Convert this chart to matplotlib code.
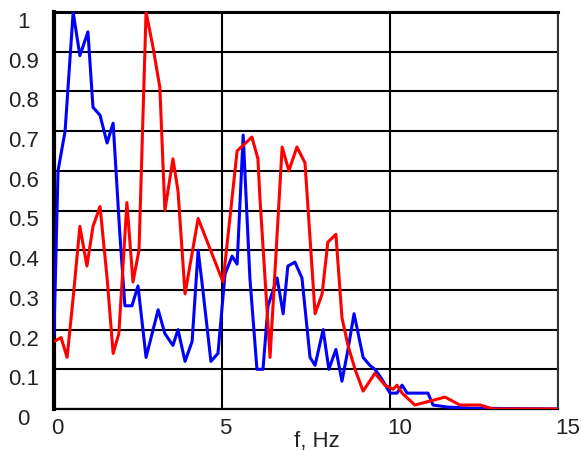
import matplotlib
matplotlib.use("Agg")
import matplotlib.pyplot as plt
from matplotlib.transforms import ScaledTranslation

# spectrum 1 (blue)
f_blue = [0, 0.12, 0.33, 0.57, 0.77, 1.01, 1.16, 1.37, 1.58, 1.76, 1.96, 2.11,
          2.32, 2.50, 2.74, 3.10, 3.30, 3.54, 3.69, 3.90, 4.11, 4.29, 4.43, 4.67,
          4.88, 5.09, 5.30, 5.45, 5.63, 5.83, 6.04, 6.22, 6.37, 6.64, 6.82, 6.96,
          7.17, 7.38, 7.62, 7.77, 8.01, 8.18, 8.39, 8.57, 8.75, 8.93, 9.20, 9.40,
          9.55, 9.76, 10.0, 10.21, 10.36, 10.51, 10.89, 11.13, 11.28, 11.70,
          12.4, 15]
a_blue = [0.19, 0.60, 0.70, 1.0, 0.89, 0.95, 0.76, 0.74, 0.67, 0.72, 0.44, 0.26,
          0.26, 0.31, 0.13, 0.25, 0.19, 0.16, 0.20, 0.12, 0.17, 0.40, 0.30, 0.12,
          0.14, 0.34, 0.385, 0.365, 0.69, 0.33, 0.10, 0.10, 0.26, 0.33, 0.24, 0.36,
          0.37, 0.33, 0.13, 0.11, 0.20, 0.10, 0.15, 0.07, 0.15, 0.24, 0.13, 0.11,
          0.10, 0.075, 0.04, 0.04, 0.06, 0.04, 0.04, 0.04, 0.01, 0.005,
          0.002, 0.0]

# spectrum 2 (red)
f_red = [0, 0.21, 0.39, 0.57, 0.77, 0.98, 1.16, 1.37, 1.58, 1.76, 1.93, 2.17,
         2.35, 2.53, 2.74, 2.95, 3.15, 3.30, 3.54, 3.69, 3.90, 4.29, 5.03, 5.45,
         5.89, 6.07, 6.13, 6.43, 6.79, 6.99, 7.23, 7.47, 7.77, 7.98, 8.15, 8.39,
         8.57, 8.75, 8.96, 9.20, 9.55, 9.85, 10.09, 10.21, 10.36, 10.74, 11.19,
         11.64, 12.08, 12.68, 13.07, 15]
a_red = [0.17, 0.18, 0.13, 0.28, 0.46, 0.36, 0.46, 0.51, 0.33, 0.14, 0.19, 0.52,
         0.32, 0.40, 1.0, 0.91, 0.81, 0.50, 0.63, 0.55, 0.29, 0.48, 0.32, 0.65,
         0.685, 0.63, 0.53, 0.13, 0.66, 0.60, 0.66, 0.62, 0.24, 0.29, 0.42, 0.44,
         0.23, 0.16, 0.10, 0.045, 0.09, 0.06, 0.05, 0.06, 0.04, 0.01, 0.02,
         0.03, 0.01, 0.01, 0.0, 0.0]

x_ticks = [0, 5, 10, 15]
y_ticks = [0, 0.1, 0.2, 0.3, 0.4, 0.5, 0.6, 0.7, 0.8, 0.9, 1]
y_labels = ["0", "0.1", "0.2", "0.3", "0.4", "0.5", "0.6", "0.7", "0.8", "0.9", "1"]

plt.rcParams["font.family"] = ["Liberation Sans", "DejaVu Sans"]

fig = plt.figure(figsize=(5.81, 4.52), dpi=100)
ax = fig.add_axes([54 / 581, 42 / 452, 504 / 581, 397 / 452])

ax.plot(f_blue, a_blue, color="#0000ff", lw=2.2, zorder=3)
ax.plot(f_red, a_red, color="#ff0000", lw=2.2, zorder=3)

ax.set_xlim(0, 15)
ax.set_ylim(0, 1)
ax.set_xticks(x_ticks)
ax.set_yticks(y_ticks)
ax.set_yticklabels(y_labels)
ax.grid(True, color="black", lw=1.5)
ax.set_axisbelow(True)
ax.tick_params(length=0, labelsize=16, colors="#222222")
ax.tick_params(axis="y", pad=22)
ax.tick_params(axis="x", pad=6)

for lab in ax.get_yticklabels():
    lab.set_horizontalalignment("center")
    lab.set_transform(lab.get_transform() + ScaledTranslation(0, -7 / 100, fig.dpi_scale_trans))
for lab in ax.get_xticklabels():
    lab.set_horizontalalignment("left")
    lab.set_transform(lab.get_transform() + ScaledTranslation(-3 / 100, 0, fig.dpi_scale_trans))

ax.spines["left"].set_linewidth(3)
ax.spines["top"].set_linewidth(2.2)
ax.spines["bottom"].set_linewidth(1.6)
ax.spines["right"].set_linewidth(1.5)
ax.spines["right"].set_color("#333333")

fig.text(317 / 581, 1 - 442 / 452, "f, Hz", ha="center", va="center", fontsize=16, color="#222222")

fig.savefig("out.png", dpi=100)
